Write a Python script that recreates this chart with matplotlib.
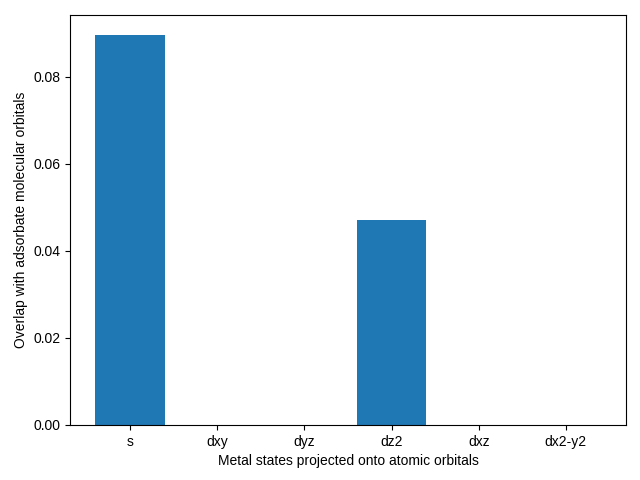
import matplotlib
matplotlib.use("Agg")
import matplotlib.pyplot as plt

plt.rcParams['font.family'] = ['Liberation Sans', 'DejaVu Sans']

# orbitale i nakładanie
orbitals = ['s', 'dxy', 'dyz', 'dz2', 'dxz', 'dx2-y2']
overlap = [0.0897, 0.0, 0.0, 0.0471, 0.0, 0.0]

fig, ax = plt.subplots(figsize=(6.4, 4.8), dpi=100)
ax.bar(orbitals, overlap, color='#1f77b4')
ax.set_xlabel('Metal states projected onto atomic orbitals')
ax.set_ylabel('Overlap with adsorbate molecular orbitals')
fig.subplots_adjust(left=70/640, right=626/640, bottom=55/480, top=465/480)
fig.savefig('out.png')
